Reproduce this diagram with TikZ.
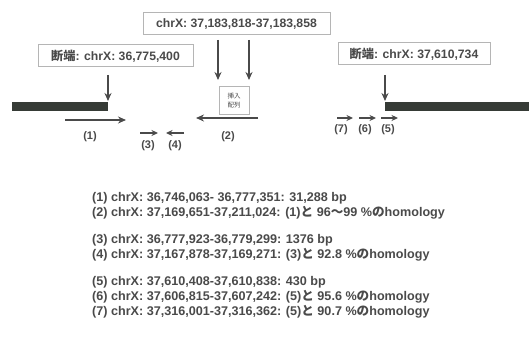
\documentclass[tikz,border=0pt]{standalone}
\usepackage{fontspec}
\setmainfont{Liberation Sans}
\newfontfamily\jp{Noto Sans CJK JP}
\usetikzlibrary{arrows.meta}
\definecolor{ink}{HTML}{4A4A4A}
\definecolor{barc}{HTML}{363B36}
\definecolor{boxline}{HTML}{B5B5B5}
\begin{document}
\begin{tikzpicture}[x=1pt,y=-1pt,
  lblbox/.style={draw=boxline,line width=1pt,inner sep=0pt,minimum height=22pt,text=ink,font=\bfseries\fontsize{12.2}{14}\selectfont},
  insbox/.style={draw=boxline,line width=1pt,inner sep=0pt,minimum width=30pt,minimum height=28pt,text=ink,align=center,font=\jp\fontsize{6.5}{9}\selectfont},
  bar/.style={fill=barc,draw=none,inner sep=0pt,minimum height=9pt},
  arr/.style={draw=ink,line width=1.4pt,-{Stealth[length=8pt,width=7pt]}},
  sarr/.style={draw=ink,line width=1.3pt,-{Stealth[length=6.5pt,width=6pt]}},
  num/.style={text=ink,inner sep=0pt,font=\bfseries\fontsize{11}{13}\selectfont},
  info/.style={text=ink,inner sep=0pt,anchor=west,font=\bfseries\fontsize{12.6}{14}\selectfont}
]
\useasboundingbox[fill=white] (0,0) rectangle (529,339);
% bars
\node[bar,minimum width=96pt,anchor=north west] (lbar) at (12,102) {};
\node[bar,minimum width=144pt,anchor=north west] (rbar) at (385,102) {};
% boxes
\node[lblbox,minimum width=155pt] (b1) at (115.5,56) {{\jp 断端}: chrX: 36,775,400};
\node[lblbox,minimum width=187pt] (bt) at (236.5,24) {chrX: 37,183,818-37,183,858};
\node[lblbox,minimum width=152pt] (b2) at (414,54) {{\jp 断端}: chrX: 37,610,734};
\node[insbox] (ins) at (234,101) {挿入\\配列};
% arrow coordinates
\coordinate (a1s) at (108,75); \coordinate (a1e) at (108,101);
\coordinate (t1s) at (218,40); \coordinate (t1e) at (218,80);
\coordinate (t2s) at (249,40); \coordinate (t2e) at (249,80);
\coordinate (a2s) at (385,75); \coordinate (a2e) at (385,101);
\draw[arr] (a1s) -- (a1e);
\draw[arr] (t1s) -- (t1e);
\draw[arr] (t2s) -- (t2e);
\draw[arr] (a2s) -- (a2e);
% segments
\coordinate (s1s) at (65,120); \coordinate (s1e) at (126,120);
\coordinate (s2s) at (258,118); \coordinate (s2e) at (196,118);
\coordinate (s3s) at (140,133); \coordinate (s3e) at (158,133);
\coordinate (s4s) at (184,133); \coordinate (s4e) at (166,133);
\coordinate (s7s) at (337,118); \coordinate (s7e) at (353,118);
\coordinate (s6s) at (359,118); \coordinate (s6e) at (376,118);
\coordinate (s5s) at (381,118); \coordinate (s5e) at (398,118);
\draw[arr] (s1s) -- (s1e);
\draw[arr] (s2s) -- (s2e);
\draw[sarr] (s3s) -- (s3e);
\draw[sarr] (s4s) -- (s4e);
\draw[sarr] (s7s) -- (s7e);
\draw[sarr] (s6s) -- (s6e);
\draw[sarr] (s5s) -- (s5e);
\node[num] (n1) at (90,137) {(1)};
\node[num] (n2) at (228,137) {(2)};
\node[num] (n3) at (148,146) {(3)};
\node[num] (n4) at (175,146) {(4)};
\node[num] (n7) at (341,130) {(7)};
\node[num] (n6) at (365,130) {(6)};
\node[num] (n5) at (388,130) {(5)};
% info text
\node[info] (i1) at (92,198) {(1) chrX: 36,746,063- 36,777,351: 31,288 bp};
\node[info] (i2) at (92,213) {(2) chrX: 37,169,651-37,211,024: (1){\jp と} 96{\jp ～}99 \%{\jp の}homology};
\node[info] (i3) at (92,240) {(3) chrX: 36,777,923-36,779,299: 1376 bp};
\node[info] (i4) at (92,255) {(4) chrX: 37,167,878-37,169,271: (3){\jp と} 92.8 \%{\jp の}homology};
\node[info] (i5) at (92,282) {(5) chrX: 37,610,408-37,610,838: 430 bp};
\node[info] (i6) at (92,297) {(6) chrX: 37,606,815-37,607,242: (5){\jp と} 95.6 \%{\jp の}homology};
\node[info] (i7) at (92,312) {(7) chrX: 37,316,001-37,316,362: (5){\jp と} 90.7 \%{\jp の}homology};
\end{tikzpicture}
\end{document}
